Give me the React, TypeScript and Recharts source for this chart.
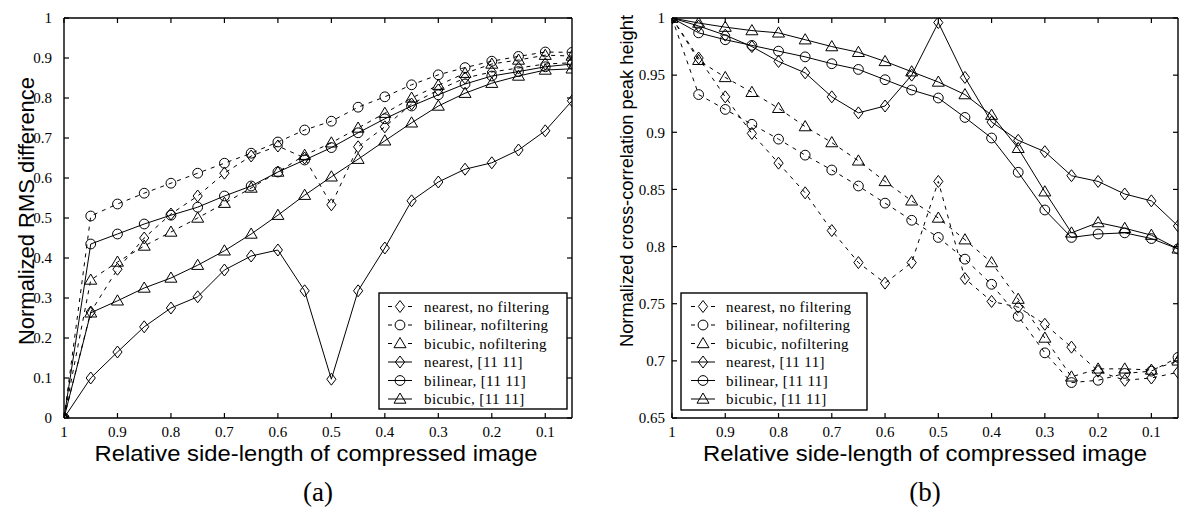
import React from 'react';
import { LineChart, Line, XAxis, YAxis } from 'recharts';

// ---------- data ----------
const xValues = [1, 0.95, 0.9, 0.85, 0.8, 0.75, 0.7, 0.65, 0.6, 0.55, 0.5, 0.45, 0.4, 0.35, 0.3, 0.25, 0.2, 0.15, 0.1, 0.05];
const xTicks = [1, 0.9, 0.8, 0.7, 0.6, 0.5, 0.4, 0.3, 0.2, 0.1];
const rmsTicks = [0, 0.1, 0.2, 0.3, 0.4, 0.5, 0.6, 0.7, 0.8, 0.9, 1];
const corrTicks = [0.65, 0.7, 0.75, 0.8, 0.85, 0.9, 0.95, 1];

const seriesLabels = [
  'nearest, no filtering',
  'bilinear, nofiltering',
  'bicubic, nofiltering',
  'nearest, [11 11]',
  'bilinear, [11 11]',
  'bicubic, [11 11]',
];

// (a) Normalized RMS difference
const rmsNearestNoFilt = [0, 0.265, 0.372, 0.45, 0.51, 0.555, 0.612, 0.655, 0.68, 0.65, 0.533, 0.678, 0.728, 0.785, 0.82, 0.85, 0.865, 0.875, 0.885, 0.888];
const rmsBilinearNoFilt = [0, 0.505, 0.535, 0.562, 0.587, 0.612, 0.637, 0.662, 0.69, 0.72, 0.742, 0.777, 0.803, 0.833, 0.858, 0.876, 0.892, 0.904, 0.915, 0.914];
const rmsBicubicNoFilt = [0, 0.345, 0.39, 0.43, 0.465, 0.5, 0.537, 0.575, 0.615, 0.657, 0.688, 0.725, 0.762, 0.8, 0.832, 0.862, 0.885, 0.895, 0.907, 0.905];
const rmsNearest11 = [0, 0.1, 0.165, 0.228, 0.275, 0.303, 0.37, 0.405, 0.42, 0.318, 0.097, 0.318, 0.425, 0.543, 0.59, 0.622, 0.638, 0.67, 0.718, 0.793];
const rmsBilinear11 = [0, 0.435, 0.46, 0.485, 0.507, 0.527, 0.555, 0.58, 0.615, 0.645, 0.676, 0.713, 0.748, 0.78, 0.808, 0.835, 0.855, 0.866, 0.878, 0.885];
const rmsBicubic11 = [0, 0.263, 0.293, 0.325, 0.35, 0.382, 0.418, 0.46, 0.507, 0.557, 0.603, 0.647, 0.693, 0.738, 0.78, 0.812, 0.837, 0.855, 0.87, 0.873];

// (b) Normalized cross-correlation peak height
const corrNearestNoFilt = [1, 0.965, 0.931, 0.899, 0.873, 0.847, 0.814, 0.786, 0.768, 0.786, 0.857, 0.772, 0.752, 0.747, 0.732, 0.712, 0.691, 0.683, 0.685, 0.69];
const corrBilinearNoFilt = [1, 0.933, 0.92, 0.907, 0.894, 0.88, 0.867, 0.853, 0.838, 0.823, 0.808, 0.789, 0.767, 0.739, 0.707, 0.681, 0.683, 0.689, 0.691, 0.703];
const corrBicubicNoFilt = [1, 0.963, 0.948, 0.935, 0.921, 0.905, 0.891, 0.875, 0.857, 0.84, 0.825, 0.806, 0.786, 0.754, 0.72, 0.686, 0.693, 0.693, 0.692, 0.7];
const corrNearest11 = [1, 0.993, 0.985, 0.975, 0.962, 0.952, 0.931, 0.917, 0.923, 0.95, 0.996, 0.948, 0.909, 0.893, 0.883, 0.862, 0.857, 0.846, 0.84, 0.818];
const corrBilinear11 = [1, 0.987, 0.981, 0.976, 0.971, 0.966, 0.96, 0.955, 0.946, 0.937, 0.93, 0.913, 0.895, 0.865, 0.832, 0.808, 0.811, 0.812, 0.807, 0.798];
const corrBicubic11 = [1, 0.9956, 0.992, 0.989, 0.987, 0.981, 0.975, 0.97, 0.962, 0.953, 0.944, 0.933, 0.915, 0.886, 0.848, 0.812, 0.821, 0.816, 0.81, 0.798];

const rmsRows = xValues.map((x, i) => ({
  x,
  a: rmsNearestNoFilt[i], b: rmsBilinearNoFilt[i], c: rmsBicubicNoFilt[i],
  d: rmsNearest11[i], e: rmsBilinear11[i], f: rmsBicubic11[i],
}));
const corrRows = xValues.map((x, i) => ({
  x,
  a: corrNearestNoFilt[i], b: corrBilinearNoFilt[i], c: corrBicubicNoFilt[i],
  d: corrNearest11[i], e: corrBilinear11[i], f: corrBicubic11[i],
}));

const seriesKeys = ['a', 'b', 'c', 'd', 'e', 'f'];
const seriesShapes = ['diamond', 'circle', 'triangle', 'diamond', 'circle', 'triangle'];
const seriesDashed = [true, true, true, false, false, false];

// ---------- drawing helpers ----------
const W = 1187;
const H = 521;
const PLOT_TOP = 18;
const PLOT_BOTTOM = 418;
const SERIF = '"Liberation Serif", "Times New Roman", serif';
const SANS = '"Liberation Sans", Arial, sans-serif';

function markerEl(shape: string, cx: number, cy: number, key?: any) {
  if (shape === 'circle') {
    return <circle key={key} cx={cx} cy={cy} r={4.9} fill="none" stroke="#000" strokeWidth={1} />;
  }
  if (shape === 'diamond') {
    return (
      <polygon key={key}
        points={`${cx},${cy - 6} ${cx + 4.6},${cy} ${cx},${cy + 6} ${cx - 4.6},${cy}`}
        fill="none" stroke="#000" strokeWidth={1} />
    );
  }
  return (
    <polygon key={key}
      points={`${cx},${cy - 6} ${cx + 6},${cy + 4.2} ${cx - 6},${cy + 4.2}`}
      fill="none" stroke="#000" strokeWidth={1} />
  );
}

const makeDot = (shape: string) => (p: any) => {
  const k = `${shape}-${p.index}-${p.dataKey}`;
  if (p.cx == null || p.cy == null) return <g key={k} />;
  return markerEl(shape, p.cx, p.cy, k);
};

const EmptyTick = () => <g />;
const fmt = (v: number) => String(v);
const tickStyle = { fontFamily: SERIF, fontSize: 15, fill: '#000' };
const axisLineStyle = { stroke: '#000', strokeWidth: 1.4 };
const tickLineStyle = { stroke: '#000', strokeWidth: 1.2 };

function Panel(props: any) {
  const { rows, left, width, plotLeft, plotRight, yDomain, yTicks, yTickMargin } = props;
  const yAxisW = 40;
  const xAxisH = 30;
  const margin = {
    top: PLOT_TOP - 1,
    left: plotLeft - left - yAxisW,
    right: left + width - plotRight - 1,
    bottom: H - PLOT_BOTTOM - xAxisH,
  };
  return (
    <div style={{ position: 'absolute', left, top: 0 }}>
      <LineChart width={width} height={H} data={rows} margin={margin}>
        <XAxis dataKey="x" type="number" domain={[0.05, 1]} reversed allowDataOverflow
          ticks={xTicks} interval={0} height={xAxisH} tickSize={-5} tickMargin={13}
          axisLine={axisLineStyle} tickLine={tickLineStyle} tick={tickStyle} tickFormatter={fmt} />
        <XAxis xAxisId="top" orientation="top" dataKey="x" type="number" domain={[0.05, 1]} reversed allowDataOverflow
          ticks={xTicks} interval={0} height={1} tickSize={-5}
          axisLine={axisLineStyle} tickLine={tickLineStyle} tick={EmptyTick} />
        <YAxis type="number" domain={yDomain} allowDataOverflow ticks={yTicks} interval={0}
          width={yAxisW} tickSize={-5} tickMargin={yTickMargin}
          axisLine={axisLineStyle} tickLine={tickLineStyle} tick={tickStyle} tickFormatter={fmt} />
        <YAxis yAxisId="right" orientation="right" type="number" domain={yDomain} allowDataOverflow
          ticks={yTicks} interval={0} width={1} tickSize={-5}
          axisLine={axisLineStyle} tickLine={tickLineStyle} tick={EmptyTick} />
        {seriesKeys.map((k, i) => (
          <Line key={k} dataKey={k} type="linear" stroke="#000" strokeWidth={1}
            strokeDasharray={seriesDashed[i] ? '4 5' : undefined}
            dot={makeDot(seriesShapes[i])} activeDot={false}
            isAnimationActive={false} />
        ))}
      </LineChart>
    </div>
  );
}

function LegendBox(props: any) {
  const { x, y, w, h, symX, textX } = props;
  const rowY0 = y + 13.5;
  const step = 18.5;
  return (
    <g>
      <rect x={x} y={y} width={w} height={h} fill="#fff" stroke="#000" strokeWidth={1.4} />
      {seriesLabels.map((label, i) => {
        const cy = rowY0 + i * step;
        return (
          <g key={label}>
            {seriesDashed[i] ? (
              <g>
                <line x1={symX - 12} y1={cy} x2={symX - 8} y2={cy} stroke="#000" strokeWidth={1} />
                <line x1={symX + 8} y1={cy} x2={symX + 12} y2={cy} stroke="#000" strokeWidth={1} />
              </g>
            ) : (
              <line x1={symX - 12} y1={cy} x2={symX + 12} y2={cy} stroke="#000" strokeWidth={1} />
            )}
            {markerEl(seriesShapes[i], symX, cy)}
            <text x={textX} y={cy + 5} fontFamily={SERIF} fontSize={15} letterSpacing={0.4} fill="#000">{label}</text>
          </g>
        );
      })}
    </g>
  );
}

export default function App() {
  return (
    <div style={{ position: 'absolute', left: 0, top: 0, width: W, height: H, background: '#fff', overflow: 'hidden' }}>
      <Panel rows={rmsRows} left={0} width={600} plotLeft={64} plotRight={572}
        yDomain={[0, 1]} yTicks={rmsTicks} yTickMargin={17} />
      <Panel rows={corrRows} left={600} width={587} plotLeft={672} plotRight={1178}
        yDomain={[0.65, 1]} yTicks={corrTicks} yTickMargin={12} />
      <svg width={W} height={H} style={{ position: 'absolute', left: 0, top: 0, pointerEvents: 'none' }}>
        <LegendBox x={379} y={293} w={188} h={116} symX={400} textX={424} />
        <LegendBox x={681} y={293} w={186} h={117} symX={703} textX={726} />
        <text x={316} y={461} textAnchor="middle" fontFamily={SANS} fontSize={22}
          textLength={443} lengthAdjust="spacingAndGlyphs" fill="#000">Relative side-length of compressed image</text>
        <text x={925} y={461} textAnchor="middle" fontFamily={SANS} fontSize={22}
          textLength={444} lengthAdjust="spacingAndGlyphs" fill="#000">Relative side-length of compressed image</text>
        <text transform="translate(34,211) rotate(-90)" textAnchor="middle" fontFamily={SANS} fontSize={22}
          textLength={268} lengthAdjust="spacingAndGlyphs" fill="#000">Normalized RMS difference</text>
        <text transform="translate(633,181) rotate(-90)" textAnchor="middle" fontFamily={SANS} fontSize={18.4}
          textLength={332} lengthAdjust="spacingAndGlyphs" fill="#000">Normalized cross-correlation peak height</text>
        <text x={318} y={501} textAnchor="middle" fontFamily={SERIF} fontSize={27} fill="#000">(a)</text>
        <text x={925} y={501} textAnchor="middle" fontFamily={SERIF} fontSize={27} fill="#000">(b)</text>
      </svg>
    </div>
  );
}
